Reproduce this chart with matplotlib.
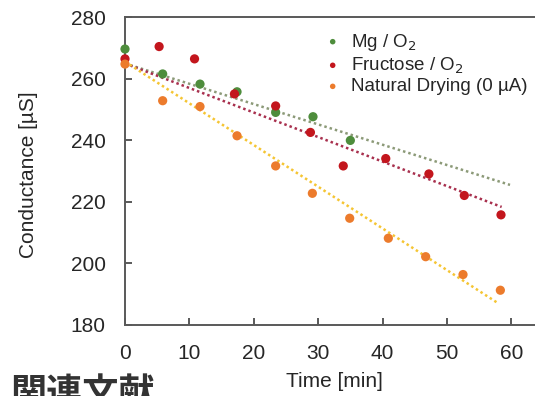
import numpy as np
import matplotlib.pyplot as plt

plt.rcParams['font.family'] = ['Liberation Sans', 'Noto Sans CJK JP', 'DejaVu Sans']

# measured points, time [min] vs conductance [uS]
mg_t = [0, 5.85, 11.65, 17.4, 23.4, 29.2, 35.0]
mg_c = [269.7, 261.6, 258.3, 255.8, 249.1, 247.7, 240.0]

fr_t = [0, 5.3, 10.8, 17.0, 23.4, 28.8, 33.9, 40.5, 47.2, 52.7, 58.4]
fr_c = [266.5, 270.5, 266.5, 255.1, 251.2, 242.6, 231.7, 234.1, 229.1, 222.1, 215.8]

nd_t = [0, 5.85, 11.65, 17.4, 23.4, 29.1, 34.9, 40.9, 46.7, 52.5, 58.3]
nd_c = [264.8, 252.9, 251.0, 241.5, 231.7, 222.8, 214.7, 208.2, 202.2, 196.4, 191.3]

# trend lines: intercept, slope, end time
trend_b = [265.0, 265.0, 265.6]
trend_k = [-0.66, -0.797, -1.355]
trend_end = [59.8, 58.5, 57.8]

labels = ['Mg / O$_2$', 'Fructose / O$_2$', 'Natural Drying (0 µA)']
colors = ['#4e8d3c', '#c3161d', '#ec7b2c']
trend_colors = ['#8c9a78', '#a8304e', '#f5c533']

fig = plt.figure(figsize=(5.35, 3.96), dpi=100)
ax = fig.add_axes([125 / 535, 1 - 325 / 396, 410 / 535, 307.67 / 396])

series = [(mg_t, mg_c), (fr_t, fr_c), (nd_t, nd_c)]
for i, (t, c) in enumerate(series):
    xx = np.array([0, trend_end[i]])
    ax.plot(xx, trend_b[i] + trend_k[i] * xx, linestyle=(0, (1, 1.2)),
            lw=1.8, color=trend_colors[i], zorder=2)
for i, (t, c) in enumerate(series):
    ax.scatter(t, c, s=44, color=colors[i], edgecolors='none', zorder=3,
               label=labels[i], clip_on=False)

ax.set_xlim(0, 60 * 410 / 386.3)
ax.set_ylim(180, 280)
ax.set_xticks(np.arange(0, 61, 10))
ax.set_yticks(np.arange(180, 281, 20))
for s in ['left', 'bottom', 'top']:
    ax.spines[s].set_color('#595959')
    ax.spines[s].set_linewidth(1.4)
ax.spines['right'].set_visible(False)
ax.tick_params(direction='in', length=5, width=1.4, color='#595959',
               labelsize=15, labelcolor='#262626')
ax.tick_params(axis='y', pad=14)
ax.tick_params(axis='x', pad=14)

ax.set_ylabel('Conductance [µS]', fontsize=15, color='#262626')
ax.yaxis.set_label_coords(-0.212, 0.49)
ax.set_xlabel('Time [min]', fontsize=15, color='#262626')
ax.xaxis.set_label_coords(0.512, -0.153)

leg = ax.legend(loc='upper left', bbox_to_anchor=(0.47, 0.978), frameon=False,
                fontsize=13.5, markerscale=0.6, handletextpad=0.55,
                handlelength=0.8, labelspacing=0.14, borderaxespad=0)
for txt in leg.get_texts():
    txt.set_color('#262626')

fig.text(10 / 535, 1 - 376 / 396, '関連文献', fontsize=26, fontweight='bold',
         color='#333333', va='top', ha='left',
         family=['Noto Sans CJK JP', 'DejaVu Sans'])

fig.savefig('out.png', dpi=100)
